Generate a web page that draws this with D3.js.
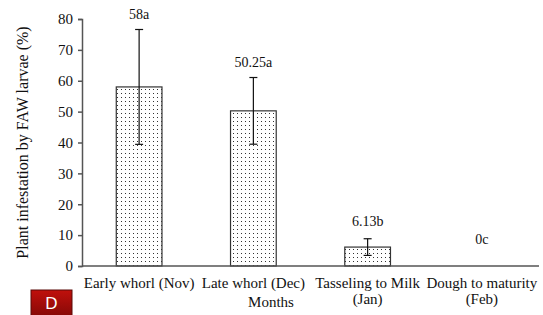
<!DOCTYPE html>
<html>
<head>
<meta charset="utf-8">
<script src="https://cdn.jsdelivr.net/npm/d3@7"></script>
<style>
  body { margin: 0; background: #fff; }
</style>
</head>
<body>
<div id="svg-container"></div>
<script>
// data
const stages = ["Early whorl (Nov)", "Late whorl (Dec)", "Tasseling to Milk|(Jan)", "Dough to maturity|(Feb)"];
const values = [58, 50.25, 6.13, 0];
const errors = [18.6, 10.8, 2.7, 0];
const letters = ["58a", "50.25a", "6.13b", "0c"];
const yTicks = [0, 10, 20, 30, 40, 50, 60, 70, 80];

const width = 543, height = 315;
const margin = { top: 19, right: 4, bottom: 49, left: 82 };
const serif = "'Liberation Serif', 'Times New Roman', Tinos, serif";

const svg = d3.select("#svg-container").append("svg")
  .attr("width", width).attr("height", height)
  .style("font-family", serif);

// dotted fill
const defs = svg.append("defs");
const pat = defs.append("pattern")
  .attr("id", "dots").attr("patternUnits", "userSpaceOnUse")
  .attr("width", 4).attr("height", 4);
pat.append("rect").attr("width", 4).attr("height", 4).attr("fill", "#fff");
pat.append("rect").attr("x", 1).attr("y", 1).attr("width", 1).attr("height", 1).attr("fill", "#333");

// scales
const xScale = d3.scaleBand().domain(stages)
  .range([margin.left, width - margin.right]).paddingInner(0.6).paddingOuter(0.3);
const yScale = d3.scaleLinear().domain([0, 80])
  .range([height - margin.bottom, margin.top]);

// bars
svg.selectAll(".bar").data(stages).join("rect")
  .attr("class", "bar")
  .attr("x", d => xScale(d))
  .attr("y", (d, i) => yScale(values[i]))
  .attr("width", xScale.bandwidth())
  .attr("height", (d, i) => yScale(0) - yScale(values[i]))
  .attr("fill", "url(#dots)")
  .attr("stroke", "#333").attr("stroke-width", 1.2);

// error bars
svg.selectAll(".err").data(stages.filter((d, i) => errors[i] > 0)).join("g")
  .attr("class", "err")
  .each(function (d) {
    const i = stages.indexOf(d);
    const cx = xScale(d) + xScale.bandwidth() / 2;
    const g = d3.select(this);
    const y1 = yScale(values[i] + errors[i]), y2 = yScale(values[i] - errors[i]);
    g.append("line").attr("x1", cx).attr("x2", cx).attr("y1", y1).attr("y2", y2);
    g.append("line").attr("x1", cx - 4).attr("x2", cx + 4).attr("y1", y1).attr("y2", y1);
    g.append("line").attr("x1", cx - 4).attr("x2", cx + 4).attr("y1", y2).attr("y2", y2);
    g.selectAll("line").attr("stroke", "#111").attr("stroke-width", 1.2);
  });

// value letters
const lblGap = [10, 11, 13, 22];
svg.selectAll(".lbl").data(stages).join("text")
  .attr("class", "lbl")
  .attr("x", d => xScale(d) + xScale.bandwidth() / 2)
  .attr("y", (d, i) => yScale(values[i] + errors[i]) - lblGap[i])
  .attr("text-anchor", "middle").attr("font-size", 14)
  .style("font-family", serif).attr("fill", "#111")
  .text((d, i) => letters[i]);

// y axis
const yAxis = svg.append("g")
  .attr("transform", `translate(${margin.left},0)`)
  .call(d3.axisLeft(yScale).tickValues(yTicks).tickSize(4).tickPadding(5));
yAxis.attr("font-family", null);
yAxis.selectAll("text").attr("font-size", 15).style("font-family", serif).attr("fill", "#111");
yAxis.selectAll("path,line").attr("stroke", "#555").attr("stroke-width", 1.5);

// x axis
const xAxis = svg.append("g")
  .attr("transform", `translate(0,${yScale(0)})`)
  .call(d3.axisBottom(xScale).tickSize(0).tickFormat(""));
xAxis.attr("font-family", null);
xAxis.select(".domain").attr("d", `M${margin.left},0H${width - margin.right}`)
  .attr("stroke", "#555").attr("stroke-width", 1.5);
xAxis.selectAll(".tick").each(function (d) {
  const t = d3.select(this).append("text")
    .attr("text-anchor", "middle").attr("font-size", 15).attr("y", 22)
    .style("font-family", serif).attr("fill", "#111");
  d.split("|").forEach((s, k) => {
    t.append("tspan").attr("x", 0).attr("dy", k ? 16 : 0).text(s);
  });
});

// axis titles
svg.append("text")
  .attr("x", 271).attr("y", 307)
  .attr("text-anchor", "middle").attr("font-size", 15)
  .style("font-family", serif).attr("fill", "#111")
  .text("Months");
svg.append("text")
  .attr("transform", `translate(28,${(margin.top + yScale(0)) / 2}) rotate(-90)`)
  .attr("text-anchor", "middle").attr("font-size", 16)
  .style("font-family", serif).attr("fill", "#111")
  .text("Plant infestation by FAW larvae (%)");

// panel letter badge
const grad = defs.append("linearGradient")
  .attr("id", "badge").attr("x1", 0).attr("y1", 0).attr("x2", 0).attr("y2", 1);
grad.append("stop").attr("offset", "0%").attr("stop-color", "#c0100c");
grad.append("stop").attr("offset", "100%").attr("stop-color", "#7e0806");
svg.append("rect").attr("x", 31).attr("y", 290).attr("width", 41).attr("height", 30)
  .attr("fill", "url(#badge)").attr("stroke", "#5a0a08");
svg.append("text").attr("x", 51.5).attr("y", 309)
  .attr("text-anchor", "middle").attr("font-size", 17)
  .style("font-family", "'Liberation Sans', Arial, sans-serif").attr("fill", "#fff")
  .text("D");
</script>
</body>
</html>
